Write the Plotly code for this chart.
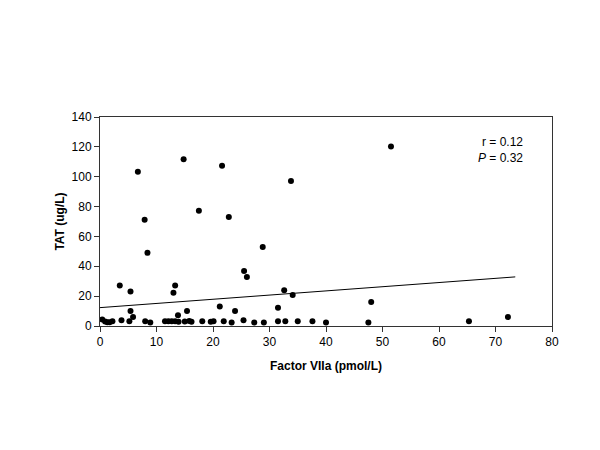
import plotly.graph_objects as go

# Factor VIIa (pmol/L) vs TAT (ug/L)
factor_viia = [0.4, 0.9, 1.3, 1.7, 2.2, 3.5, 3.8, 5.2, 5.4, 5.4, 5.85, 6.7, 7.9, 8.0, 8.4, 8.9,
               11.5, 12.1, 12.7, 13.0, 13.3, 13.3, 13.8, 13.9, 14.8, 15.0, 15.4, 15.8, 16.2,
               17.5, 18.1, 19.6, 20.1, 21.2, 21.6, 21.9, 22.8, 23.3, 23.9, 25.4, 25.5, 26.0,
               27.3, 28.8, 29.0, 31.5, 31.5, 32.6, 32.8, 33.8, 34.1, 35.0, 37.6, 40.0,
               47.5, 48.0, 51.5, 65.3, 72.2]
tat = [4.3, 3.0, 2.5, 2.5, 3.2, 27.1, 3.8, 3.2, 23.1, 10.1, 6.0, 103.4, 71.2, 3.2, 49.0, 2.3,
       3.2, 3.2, 3.2, 22.2, 27.1, 3.2, 7.2, 2.9, 111.7, 3.0, 10.1, 3.4, 2.9,
       77.2, 3.2, 2.9, 3.2, 13.0, 107.3, 3.2, 73.0, 2.3, 10.1, 3.8, 36.9, 32.9,
       2.3, 52.9, 2.3, 12.3, 3.2, 24.0, 3.2, 97.2, 20.8, 3.2, 3.2, 2.3,
       2.3, 16.1, 120.2, 3.2, 6.0]

# Regression line end points
fit_x = [0.0, 73.5]
fit_y = [12.3, 32.9]

x_ticks = [0, 10, 20, 30, 40, 50, 60, 70, 80]
y_ticks = [0, 20, 40, 60, 80, 100, 120, 140]

font = "Arial, Liberation Sans, sans-serif"

fig = go.Figure()
fig.add_trace(go.Scatter(x=fit_x, y=fit_y, mode="lines",
                         line=dict(color="black", width=1), showlegend=False))
fig.add_trace(go.Scatter(x=factor_viia, y=tat, mode="markers",
                         marker=dict(color="black", size=6), showlegend=False))

fig.add_annotation(x=75.2, y=123.4, xref="x", yref="y", text="r = 0.12",
                   showarrow=False, xanchor="right", yanchor="middle",
                   font=dict(family=font, size=12, color="black"))
fig.add_annotation(x=75.2, y=112.6, xref="x", yref="y", text="<i>P</i> = 0.32",
                   showarrow=False, xanchor="right", yanchor="middle",
                   font=dict(family=font, size=12, color="black"))

axis_common = dict(showgrid=False, zeroline=False, showline=True, linecolor="#333333",
                   linewidth=1, mirror=True, ticks="outside", ticklen=5,
                   tickcolor="#333333", tickfont=dict(family=font, size=12, color="black"))

fig.update_xaxes(range=[0, 80], tickvals=x_ticks,
                 title=dict(text="<b>Factor VIIa (pmol/L)</b>", standoff=13,
                            font=dict(family=font, size=12, color="black")),
                 **axis_common)
fig.update_yaxes(range=[0, 140], tickvals=y_ticks,
                 title=dict(text="<b>TAT (ug/L)</b>", standoff=4,
                            font=dict(family=font, size=12, color="black")),
                 **axis_common)

fig.update_layout(width=600, height=450,
                  margin=dict(l=92, r=56, t=109, b=132, autoexpand=False),
                  paper_bgcolor="white", plot_bgcolor="white",
                  font=dict(family=font, size=12, color="black"))

fig.write_html("out.html")
